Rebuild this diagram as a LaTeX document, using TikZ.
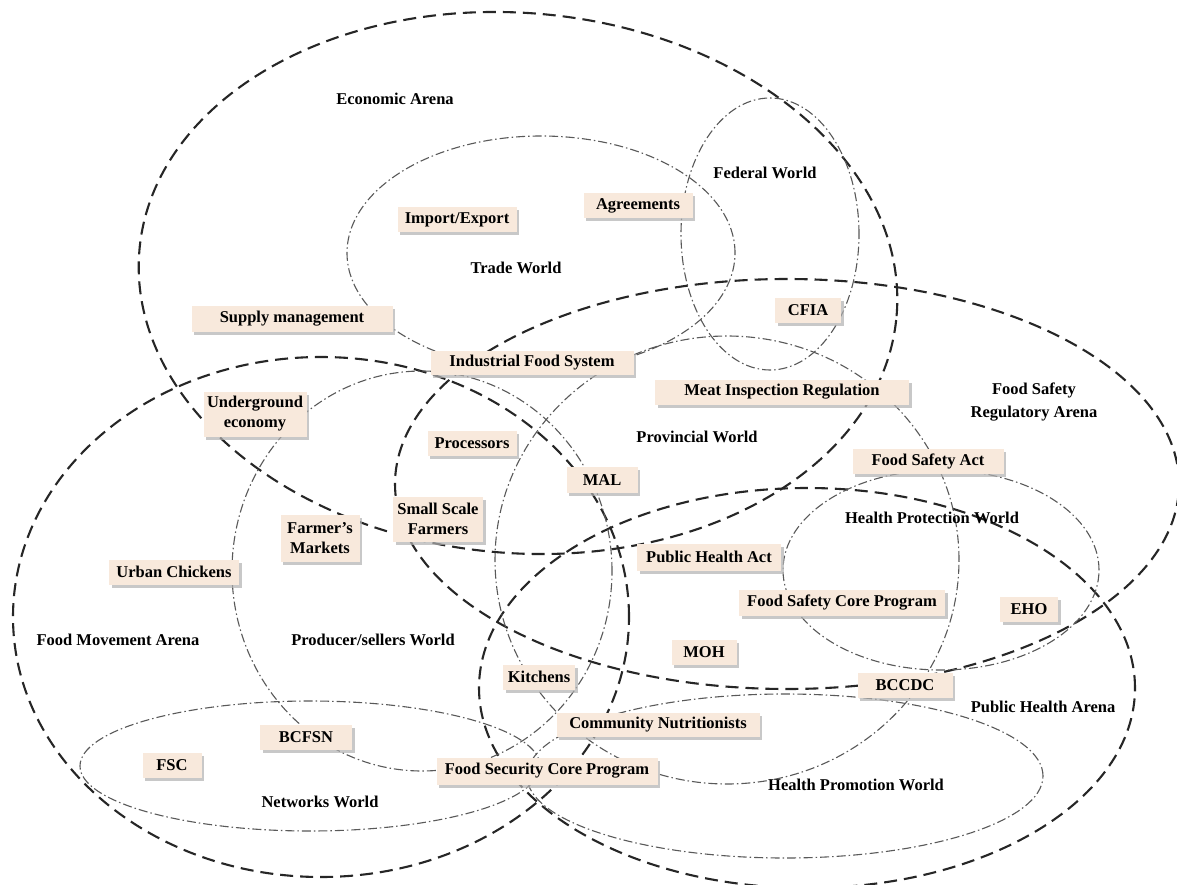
\documentclass[tikz,border=0pt]{standalone}
\usepackage{fontspec}
\setmainfont{Liberation Serif}
\usetikzlibrary{shadows}
\definecolor{boxfill}{RGB}{248,233,220}
\begin{document}
\begin{tikzpicture}[x=1pt,y=-1pt,
  arena/.style={black!85, line width=2.1pt, dash pattern=on 13pt off 7pt},
  world/.style={black!65, line width=1.1pt, dash pattern=on 9pt off 3pt on 1.5pt off 3pt},
  lbl/.style={font=\fontsize{16.5}{20}\selectfont\bfseries, align=center, inner sep=0pt},
  ibox/.style={lbl, fill=boxfill, minimum height=25pt,
    drop shadow={shadow xshift=2.5pt, shadow yshift=-3pt, fill=black!30, opacity=0.7}},
]
\useasboundingbox[fill=white] (0,0) rectangle (1177,885);

% arenas (dashed)
\draw[arena, rotate around={-5:(518,283)}] (518,283) ellipse [x radius=380pt, y radius=270pt];
\draw[arena] (787,484) ellipse [x radius=392pt, y radius=205pt];
\draw[arena] (321,617) ellipse [x radius=308pt, y radius=260pt];
\draw[arena] (807,688) ellipse [x radius=328pt, y radius=200pt];

% worlds (dash-dot)
\draw[world] (541,253) ellipse [x radius=194pt, y radius=117pt];
\draw[world] (770,234) ellipse [x radius=89pt, y radius=136pt];
\draw[world] (727,560) ellipse [x radius=232pt, y radius=224pt];
\draw[world] (941,570) ellipse [x radius=158pt, y radius=100pt];
\draw[world] (422,571) ellipse [x radius=190pt, y radius=200pt];
\draw[world] (310,766) ellipse [x radius=230pt, y radius=65pt];
\draw[world] (785,776) ellipse [x radius=258pt, y radius=82pt];

% boxes
\node[ibox, minimum width=119pt] (imp) at (457,220) {Import/Export};
\node[ibox, minimum width=109pt] (agr) at (638,206) {Agreements};
\node[ibox, minimum width=201pt, minimum height=26pt] (sup) at (292,319) {Supply management};
\node[ibox, minimum width=203pt, minimum height=24pt] (ifs) at (532,363) {Industrial Food System};
\node[ibox, minimum width=66pt] (cfia) at (808,310) {CFIA};
\node[ibox, minimum width=254pt] (mir) at (782,392) {Meat Inspection Regulation};
\node[ibox, minimum width=103pt, minimum height=45pt] (und) at (255,414) {Underground\\economy};
\node[ibox, minimum width=89pt] (proc) at (472,443) {Processors};
\node[ibox, minimum width=71pt, minimum height=26pt] (mal) at (602,480) {MAL};
\node[ibox, minimum width=90pt, minimum height=45pt] (ssf) at (438,519) {Small Scale\\Farmers};
\node[ibox, minimum width=79pt, minimum height=47pt] (fm) at (320,538) {Farmer’s\\Markets};
\node[ibox, minimum width=130pt] (uc) at (174,572) {Urban Chickens};
\node[ibox, minimum width=151pt] (fsa) at (928,461) {Food Safety Act};
\node[ibox, minimum width=144pt, minimum height=27pt] (pha) at (709,557) {Public Health Act};
\node[ibox, minimum width=206pt, minimum height=26pt] (fscp) at (842,603) {Food Safety Core Program};
\node[ibox, minimum width=58pt] (eho) at (1029,609) {EHO};
\node[ibox, minimum width=65pt] (moh) at (704,652) {MOH};
\node[ibox, minimum width=95pt] (bccdc) at (905,685) {BCCDC};
\node[ibox, minimum width=72pt] (kit) at (539,677) {Kitchens};
\node[ibox, minimum width=203pt, minimum height=24pt] (cn) at (658,725) {Community Nutritionists};
\node[ibox, minimum width=221pt, minimum height=27pt] (fsecp) at (547,771) {Food Security Core Program};
\node[ibox, minimum width=92pt] (bcfsn) at (306,737) {BCFSN};
\node[ibox, minimum width=59pt] (fsc) at (172,765) {FSC};

% labels
\node[lbl] (ea) at (395,99) {Economic Arena};
\node[lbl] (tw) at (516,268) {Trade World};
\node[lbl] (fw) at (765,173) {Federal World};
\node[lbl, font=\fontsize{16.5}{23}\selectfont\bfseries] (fsra) at (1034,402) {Food Safety\\Regulatory Arena};
\node[lbl] (pw) at (697,437) {Provincial World};
\node[lbl] (hpw) at (932,518) {Health Protection World};
\node[lbl] (fma) at (118,640) {Food Movement Arena};
\node[lbl] (psw) at (373,640) {Producer/sellers World};
\node[lbl] (nw) at (320,802) {Networks World};
\node[lbl] (pha2) at (1043,707) {Public Health Arena};
\node[lbl] (hpmw) at (856,785) {Health Promotion World};
\end{tikzpicture}
\end{document}
